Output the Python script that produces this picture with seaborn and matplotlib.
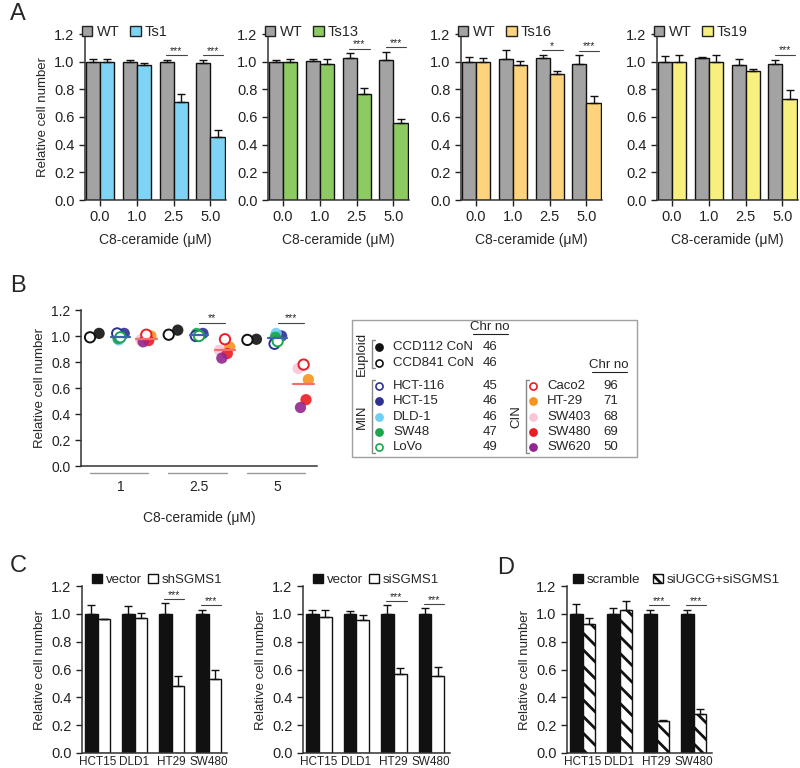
import numpy as np
import pandas as pd
import matplotlib
matplotlib.use('Agg')
import matplotlib.pyplot as plt
import seaborn as sns
from matplotlib.patches import Patch, Rectangle

sns.set_style('ticks')
plt.rcParams['font.family'] = ['Liberation Sans', 'DejaVu Sans']
plt.rcParams['hatch.linewidth'] = 2.0
plt.rcParams['axes.linewidth'] = 1.1
plt.rcParams['axes.edgecolor'] = '#333333'

# ---- Panel A: WT vs trisomic lines, C8-ceramide dose ----
doses = ['0.0', '1.0', '2.5', '5.0']
ts_names = ['Ts1', 'Ts13', 'Ts16', 'Ts19']
ts_colors = ['#7fd4f6', '#8dca62', '#fdd37e', '#f8f07e']
wt_mean = [[1.00, 1.00, 1.00, 0.99], [1.00, 1.005, 1.025, 1.015],
           [1.00, 1.02, 1.03, 0.98], [1.00, 1.025, 0.975, 0.98]]
wt_err = [[0.02, 0.015, 0.01, 0.02], [0.01, 0.015, 0.035, 0.055],
          [0.035, 0.065, 0.02, 0.065], [0.04, 0.01, 0.045, 0.035]]
ts_mean = [[1.00, 0.975, 0.71, 0.455], [1.00, 0.98, 0.765, 0.555],
           [1.00, 0.975, 0.91, 0.70], [1.00, 0.995, 0.93, 0.73]]
ts_err = [[0.02, 0.015, 0.055, 0.05], [0.02, 0.04, 0.045, 0.03],
          [0.03, 0.03, 0.025, 0.05], [0.05, 0.055, 0.02, 0.065]]
ts_stars = [['', '', '***', '***'], ['', '', '***', '***'],
            ['', '', '*', '***'], ['', '', '', '***']]

# ---- Panel B: colon cancer cell lines ----
b_doses = ['1', '2.5', '5']
b_lines = ['CCD112 CoN', 'CCD841 CoN', 'HCT-116', 'HCT-15', 'DLD-1', 'SW48', 'LoVo',
           'Caco2', 'HT-29', 'SW403', 'SW480', 'SW620']
b_group = ['Euploid'] * 2 + ['MIN'] * 5 + ['CIN'] * 5
b_chr = [46, 46, 45, 46, 46, 47, 49, 96, 71, 68, 69, 50]
b_colors = ['#111111', '#111111', '#2e3192', '#2e3192', '#6dcff6', '#1aa64a', '#1aa64a',
            '#ed1c24', '#f7941d', '#f9c6d8', '#ed1c24', '#92278f']
b_filled = [True, False, False, True, True, True, False, False, True, True, True, True]
b_dose1 = [1.02, 0.99, 1.02, 1.02, 0.97, 0.98, 0.99, 1.01, 1.00, 0.97, 0.965, 0.955]
b_dose25 = [1.045, 1.01, 1.00, 1.02, 1.00, 1.02, 1.00, 0.975, 0.915, 0.89, 0.865, 0.83]
b_dose5 = [0.975, 0.97, 0.94, 1.00, 1.02, 0.99, 0.96, 0.78, 0.665, 0.75, 0.51, 0.45]
b_stars = ['', '**', '***']

# ---- Panels C/D: knockdowns ----
c_cells = ['HCT15', 'DLD1', 'HT29', 'SW480']
c1_vec = [1.0, 1.0, 1.0, 1.0]
c1_vec_err = [0.06, 0.055, 0.075, 0.03]
c1_sh = [0.96, 0.97, 0.485, 0.535]
c1_sh_err = [0.005, 0.035, 0.065, 0.065]
c2_vec = [1.0, 1.0, 1.0, 1.0]
c2_vec_err = [0.03, 0.02, 0.06, 0.04]
c2_si = [0.975, 0.955, 0.57, 0.555]
c2_si_err = [0.05, 0.04, 0.04, 0.065]
d_scr = [1.0, 1.0, 1.0, 1.0]
d_scr_err = [0.07, 0.04, 0.03, 0.03]
d_kd = [0.925, 1.03, 0.23, 0.28]
d_kd_err = [0.045, 0.06, 0.01, 0.035]
cd_stars = ['', '', '***', '***']

# dodge offsets for the scatter in B (style)
b_offset = {'CCD112 CoN': -0.27, 'CCD841 CoN': -0.385, 'HCT-116': -0.04, 'HCT-15': 0.05,
            'DLD-1': -0.02, 'SW48': -0.03, 'LoVo': 0.0, 'Caco2': 0.33, 'HT-29': 0.39,
            'SW403': 0.26, 'SW480': 0.36, 'SW620': 0.29}

W, H = 800, 768
fig = plt.figure(figsize=(8, 7.68), dpi=100)


def rect(x, y_top, w, h):
    return [x / W, 1 - (y_top + h) / H, w / W, h / H]


def style_axes(ax, tick_fs=10):
    sns.despine(ax=ax)
    ax.set_ylim(0, 1.2)
    ax.set_yticks(np.arange(0, 1.21, 0.2))
    ax.set_yticklabels([f'{v:.1f}' for v in np.arange(0, 1.21, 0.2)])
    ax.tick_params(axis='y', direction='out', length=4, width=1, labelsize=tick_fs, colors='#222222')
    ax.tick_params(axis='x', direction='out', length=4, width=1, labelsize=tick_fs, colors='#222222')


def bar_panel(ax, cats, ctrl, ctrl_err, trt, trt_err, names, colors, stars,
              width, hatch=None, off=0.04):
    n = len(cats)
    df = pd.DataFrame({'cat': cats * 2, 'grp': [names[0]] * n + [names[1]] * n,
                       'val': list(ctrl) + list(trt)})
    sns.barplot(data=df, x='cat', y='val', hue='grp', palette=dict(zip(names, colors)),
                width=width, errorbar=None, edgecolor='#111111', linewidth=1,
                saturation=1, legend=False, ax=ax)
    if hatch:
        for b in ax.containers[1]:
            b.set_hatch(hatch)
            b.set_facecolor('white')
    for cont, err in zip(ax.containers, [ctrl_err, trt_err]):
        xs = [b.get_x() + b.get_width() / 2 for b in cont]
        ys = [b.get_height() for b in cont]
        ax.errorbar(xs, ys, yerr=[np.zeros(n), err], fmt='none', ecolor='#111111',
                    elinewidth=1, capsize=3, capthick=1, zorder=1)
    for i, s in enumerate(stars):
        if s:
            top = max(ctrl[i] + ctrl_err[i], trt[i] + trt_err[i]) + off
            ax.plot([i - 0.2, i + 0.35], [top, top], color='#444444', lw=0.8)
            ax.text(i + 0.07, top - 0.005, s, ha='center', va='bottom', fontsize=7.5)
    ax.set_xlabel('')
    ax.set_ylabel('')


# ---------------- Panel A ----------------
a_left = [85, 268, 461, 657]
for k in range(4):
    ax = fig.add_axes(rect(a_left[k], 34, 141, 166))
    bar_panel(ax, doses, wt_mean[k], wt_err[k], ts_mean[k], ts_err[k],
              ['WT', ts_names[k]], ['#a3a3a3', ts_colors[k]], ts_stars[k], 0.76, off=0.035)
    ax.set_xlim(-0.4, 3.42)
    style_axes(ax, 10.5)
    ax.set_xlabel('C8-ceramide (\u03bcM)', fontsize=10, labelpad=6)
    if k == 0:
        ax.set_ylabel('Relative cell number', fontsize=9.5)
    handles = [Patch(facecolor='#a3a3a3', edgecolor='#222222'),
               Patch(facecolor=ts_colors[k], edgecolor='#222222')]
    ax.legend(handles, ['WT', ts_names[k]], loc='lower left', bbox_to_anchor=(-0.02, 0.97),
              ncol=2, frameon=False, handlelength=0.7, handleheight=0.7, handletextpad=0.3,
              columnspacing=0.75, fontsize=10.5, borderaxespad=0, borderpad=0)

# ---------------- Panel B ----------------
axb = fig.add_axes(rect(81, 310, 236, 156))
rows = []
for d, vals in enumerate([b_dose1, b_dose25, b_dose5]):
    for name, grp, filled, v in zip(b_lines, b_group, b_filled, vals):
        rows.append(dict(dose=d, line=name, group=grp, filled=filled, value=v))
df_b = pd.DataFrame(rows)
df_b['x'] = df_b['dose'] + df_b['line'].map(b_offset)
cmap = dict(zip(b_lines, b_colors))

sns.scatterplot(data=df_b[df_b['filled']], x='x', y='value', hue='line', palette=cmap,
                s=66, linewidth=0, alpha=0.9, legend=False, ax=axb, zorder=3)
op = df_b[~df_b['filled']]
axb.scatter(op['x'], op['value'], s=55, facecolors='white',
            edgecolors=[cmap[l] for l in op['line']], linewidths=1.4, zorder=4)

means = df_b.groupby(['dose', 'group'])['value'].mean()
for d in range(len(b_doses)):
    axb.plot([d - 0.12, d + 0.12], [means[(d, 'MIN')]] * 2, color='#3b64b4', lw=1.6, zorder=5)
    axb.plot([d + 0.2, d + 0.46], [means[(d, 'CIN')]] * 2, color='#f07070', lw=1.6, zorder=5)
    axb.plot([d - 0.39, d + 0.35], [-0.045, -0.045], color='#999999', lw=1,
             transform=axb.get_xaxis_transform(), clip_on=False)
    if b_stars[d]:
        axb.plot([d, d + 0.33], [1.1, 1.1], color='#444444', lw=0.8)
        axb.text(d + 0.165, 1.097, b_stars[d], ha='center', va='bottom', fontsize=7.5)

axb.set_xlim(-0.5, 2.5)
style_axes(axb, 10)
axb.set_xticks(range(len(b_doses)))
axb.set_xticklabels(b_doses)
axb.tick_params(axis='x', length=0, pad=10)
axb.set_xlabel('C8-ceramide (\u03bcM)', fontsize=10, labelpad=12)
axb.set_ylabel('Relative cell number', fontsize=9.5)

# legend box for B (layout in pixel coordinates)
ov = fig.add_axes([0, 0, 1, 1])
ov.set_xlim(0, W)
ov.set_ylim(H, 0)
ov.axis('off')
ov.add_patch(Rectangle((352, 320), 285, 137, fill=False, edgecolor='#a0a0a0', lw=1))
lfs = 9.5
ov.text(490, 327, 'Chr no', ha='center', va='center', fontsize=lfs)
ov.plot([473, 508], [334, 334], color='#222222', lw=0.8)
ov.text(609, 365, 'Chr no', ha='center', va='center', fontsize=lfs)
ov.plot([592, 627], [372, 372], color='#222222', lw=0.8)

row_y = {'Euploid': [347, 363], 'MIN': [386, 401.3, 416.6, 432, 447.3],
         'CIN': [386, 401.3, 416.6, 432, 447.3]}
col_x = {'Euploid': 379, 'MIN': 379, 'CIN': 533}
num_x = {'Euploid': 483, 'MIN': 483, 'CIN': 603}
counter = {'Euploid': 0, 'MIN': 0, 'CIN': 0}
for name, grp, chrn, col, filled in zip(b_lines, b_group, b_chr, b_colors, b_filled):
    y = row_y[grp][counter[grp]]
    counter[grp] += 1
    x = col_x[grp]
    ov.scatter([x], [y], s=26, facecolors=col if filled else 'white', edgecolors=col,
               linewidths=1.2)
    ov.text(x + 14, y, name, ha='left', va='center', fontsize=lfs)
    ov.text(num_x[grp], y, str(chrn), ha='left', va='center', fontsize=lfs)

for label, bx, y0, y1, tx in [('Euploid', 372, 340, 368, 362), ('MIN', 372, 380, 453, 362),
                              ('CIN', 526, 380, 453, 516)]:
    ov.plot([bx + 3, bx, bx, bx + 3], [y0, y0, y1, y1], color='#888888', lw=1)
    ov.text(tx, (y0 + y1) / 2, label, rotation=90, ha='center', va='center', fontsize=lfs)

# ---------------- Panels C and D ----------------
cd_specs = [
    (82, 145, c1_vec, c1_vec_err, c1_sh, c1_sh_err, ['vector', 'shSGMS1'], None, 0.07, 0.45),
    (303, 147, c2_vec, c2_vec_err, c2_si, c2_si_err, ['vector', 'siSGMS1'], None, 0.07, 0.45),
    (567, 145, d_scr, d_scr_err, d_kd, d_kd_err, ['scramble', 'siUGCG+siSGMS1'], '\\\\', 0.04, 0.95),
]
for left, wid, ctrl, cerr, trt, terr, names, hatch, lx, cs in cd_specs:
    ax = fig.add_axes(rect(left, 586, wid, 167))
    bar_panel(ax, c_cells, ctrl, cerr, trt, terr, names, ['#111111', 'white'], cd_stars,
              0.68, hatch=hatch, off=0.03)
    ax.set_xlim(-0.42, 3.5)
    style_axes(ax, 10.5)
    ax.tick_params(axis='x', length=0, pad=2, labelsize=8.5)
    ax.set_ylabel('Relative cell number', fontsize=9.5)
    if hatch:
        h2 = Patch(facecolor='white', edgecolor='#111111', hatch='\\\\\\')
    else:
        h2 = Patch(facecolor='white', edgecolor='#111111')
    ax.legend([Patch(facecolor='#111111', edgecolor='#111111'), h2], names,
              loc='lower left', bbox_to_anchor=(lx, 1.0), ncol=2, frameon=False,
              handlelength=0.75, handleheight=0.75, handletextpad=0.3, columnspacing=cs,
              fontsize=9.5, borderaxespad=0, borderpad=0)

# panel letters
for letter, x, y in [('A', 10, 14), ('B', 10, 286), ('C', 10, 566), ('D', 497, 568)]:
    fig.text(x / W, 1 - y / H, letter, fontsize=17, ha='left', va='center')

fig.savefig('out.png', dpi=100)
